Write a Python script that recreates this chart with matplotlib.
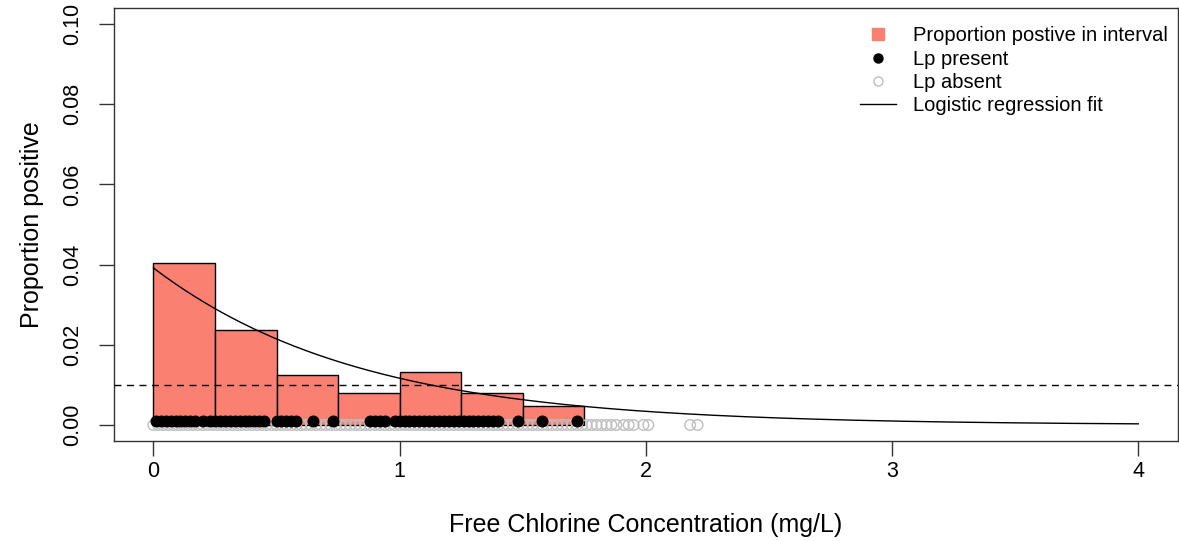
import matplotlib.pyplot as plt
from matplotlib.lines import Line2D
import numpy as np

plt.rcParams['font.family'] = ['Liberation Sans', 'DejaVu Sans']

# proportion positive in each 0.25 mg/L interval
bin_edges = [0.0, 0.25, 0.5, 0.75, 1.0, 1.25, 1.5, 1.75]
bin_props = [0.0405, 0.0237, 0.0125, 0.0081, 0.0132, 0.0081, 0.0048]

# samples with Lp present (drawn at y = 0.001)
present_x = [0.01, 0.03, 0.05, 0.07, 0.09, 0.11, 0.13, 0.15, 0.17, 0.20,
             0.23, 0.25, 0.27, 0.29, 0.31, 0.33, 0.35, 0.37, 0.39, 0.41,
             0.43, 0.45, 0.50, 0.52, 0.54, 0.56, 0.58, 0.65, 0.73,
             0.88, 0.90, 0.92, 0.94, 0.98, 1.00, 1.02, 1.04, 1.06, 1.08,
             1.10, 1.12, 1.14, 1.16, 1.18, 1.20, 1.22, 1.24, 1.26, 1.28,
             1.30, 1.32, 1.34, 1.36, 1.38, 1.40, 1.48, 1.58, 1.72]

# samples with Lp absent (drawn at y = 0)
absent_x = [0.00, 0.02, 0.04, 0.06, 0.08, 0.10, 0.12, 0.14, 0.16, 0.18,
            0.20, 0.22, 0.24, 0.26, 0.28, 0.30, 0.32, 0.34, 0.36, 0.38,
            0.40, 0.42, 0.44, 0.46, 0.48, 0.50, 0.52, 0.54, 0.56, 0.58,
            0.60, 0.62, 0.64, 0.66, 0.68, 0.70, 0.72, 0.74, 0.76, 0.78,
            0.80, 0.82, 0.84, 0.86, 0.88, 0.90, 0.92, 0.94, 0.96, 0.98,
            1.00, 1.02, 1.04, 1.06, 1.08, 1.10, 1.12, 1.14, 1.16, 1.18,
            1.20, 1.22, 1.24, 1.26, 1.28, 1.30, 1.32, 1.34, 1.36, 1.38,
            1.40, 1.42, 1.44, 1.46, 1.48, 1.50, 1.52, 1.54, 1.56, 1.58,
            1.60, 1.62, 1.64, 1.66, 1.68, 1.70, 1.72, 1.74, 1.76, 1.78,
            1.80, 1.82, 1.84, 1.86, 1.88, 1.91, 1.93, 1.95, 1.99, 2.01,
            2.18, 2.21]

# logistic regression coefficients (logit scale)
fit_intercept = -3.20
fit_slope = -1.24
fit_range = [0.0, 4.0]
threshold = 0.01

fig = plt.figure(figsize=(11.79, 5.41), dpi=100)
ax = fig.add_axes([0.0967, 0.1848, 0.9022, 0.8004])

widths = np.diff(bin_edges)
ax.bar(bin_edges[:-1], bin_props, width=widths, align='edge',
       color='#FA8072', edgecolor='black', linewidth=1, zorder=2)

ax.axhline(threshold, color='black', linestyle=(0, (5, 4)), linewidth=1, zorder=3)

ax.scatter(absent_x, np.zeros(len(absent_x)), s=58, facecolors='none',
           edgecolors='#BEBEBE', linewidths=1.0, zorder=4)
ax.scatter(present_x, np.full(len(present_x), 0.001), s=58, color='black', zorder=5)

xs = np.linspace(fit_range[0], fit_range[1], 400)
ys = 1 / (1 + np.exp(-(fit_intercept + fit_slope * xs)))
ax.plot(xs, ys, color='black', linewidth=1, zorder=6)

ax.set_xlim(-0.16, 4.16)
ax.set_ylim(-0.004, 0.104)
ax.set_xticks([0, 1, 2, 3, 4])
ax.set_yticks([0.00, 0.02, 0.04, 0.06, 0.08, 0.10])
ax.set_yticklabels(['0.00', '0.02', '0.04', '0.06', '0.08', '0.10'],
                   rotation=90, va='center')
ax.tick_params(axis='both', direction='out', length=10.5, width=1,
               labelsize=15.5, color='#333333')
ax.tick_params(axis='x', pad=4)
ax.tick_params(axis='y', pad=12)
for sp in ax.spines.values():
    sp.set_color('#333333')
    sp.set_linewidth(1)

ax.set_xlabel('Free Chlorine Concentration (mg/L)', fontsize=18, labelpad=22)
ax.set_ylabel('Proportion positive', fontsize=18, labelpad=12.5)

handles = [
    Line2D([], [], marker='s', color='#FA8072', linestyle='none', markersize=9),
    Line2D([], [], marker='o', color='black', linestyle='none', markersize=6.5),
    Line2D([], [], marker='o', markerfacecolor='none', markeredgecolor='#BEBEBE',
           linestyle='none', markersize=6.5),
    Line2D([], [], color='black', linewidth=1),
]
labels = ['Proportion postive in interval', 'Lp present', 'Lp absent',
          'Logistic regression fit']
ax.legend(handles, labels, loc='upper right', bbox_to_anchor=(1.0075, 1.0),
          frameon=False, fontsize=14.5,
          handlelength=1.75, handletextpad=0.85, labelspacing=0.22,
          borderaxespad=0.6, borderpad=0.3)

fig.savefig('out.png', dpi=100)
